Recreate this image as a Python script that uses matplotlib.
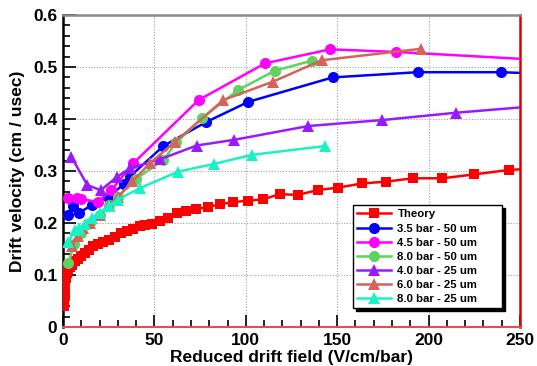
import matplotlib
matplotlib.use("Agg")
import matplotlib.pyplot as plt
from matplotlib.ticker import MultipleLocator

plt.rcParams['font.family'] = ['Liberation Sans', 'DejaVu Sans']
plt.rcParams['font.weight'] = 'bold'

# Theory curve
theory_x = [0.7, 0.8, 0.9, 1.0, 1.2, 1.5, 2, 3, 4, 5, 6.5, 8, 10, 12, 14, 16.5, 19, 22, 25,
            28.5, 32, 35, 38.5, 42, 45, 48.5, 53, 57.5, 62.5, 67.5, 73, 79.5, 86, 93, 101,
            109.5, 118.5, 128.5, 139.5, 150.5, 163.5, 176.5, 191.5, 207.5, 225, 244, 262]
theory_y = [0.04, 0.05, 0.06, 0.075, 0.085, 0.095, 0.103, 0.11, 0.115, 0.12, 0.126, 0.131,
            0.137, 0.143, 0.149, 0.155, 0.159, 0.164, 0.168, 0.174, 0.18, 0.185, 0.189,
            0.194, 0.197, 0.199, 0.204, 0.21, 0.219, 0.224, 0.227, 0.231, 0.236, 0.24,
            0.243, 0.2455, 0.2555, 0.254, 0.2635, 0.268, 0.276, 0.2795, 0.286, 0.286,
            0.2935, 0.302, 0.306]

# 3.5 bar - 50 um
b35_x = [2.5, 5.5, 9, 16, 24.5, 33.5, 36.5, 54.9, 78.2, 101.4, 147.5, 194.0, 239.8, 285]
b35_y = [0.215, 0.232, 0.22, 0.235, 0.25, 0.275, 0.289, 0.348, 0.394, 0.433, 0.480, 0.490,
         0.490, 0.484]

# 4.5 bar - 50 um
b45_x = [2.9, 7.5, 10, 19.1, 26.4, 38.5, 74.2, 110.5, 146.1, 182.0, 290]
b45_y = [0.2475, 0.2475, 0.2455, 0.241, 0.263, 0.315, 0.4365, 0.507, 0.534, 0.529, 0.508]

# 8.0 bar - 50 um
b80_x = [3, 6, 10, 15, 20, 25, 30, 40, 54.9, 62, 75.9, 95.9, 116, 136]
b80_y = [0.1225, 0.16, 0.18, 0.2, 0.215, 0.235, 0.25, 0.285, 0.321, 0.355, 0.401, 0.456,
         0.493, 0.512]

# 4.0 bar - 25 um
b40_x = [4.6, 13.3, 20.6, 29.7, 36.5, 53.1, 73.1, 93.7, 134.2, 174.7, 214.8, 256]
b40_y = [0.327, 0.273, 0.263, 0.289, 0.305, 0.3225, 0.349, 0.36, 0.3865, 0.398, 0.412, 0.424]

# 6.0 bar - 25 um
b60_x = [5, 8, 11, 15, 20, 25, 30, 38, 47.6, 61.3, 87.7, 115, 141.5, 195.8]
b60_y = [0.155, 0.175, 0.19, 0.2, 0.215, 0.235, 0.25, 0.28, 0.315, 0.356, 0.4365, 0.472,
         0.513, 0.535]

# 8.0 bar - 25 um
c80_x = [3, 6.4, 9, 11.9, 16, 20, 25, 30, 42.1, 63.1, 82.6, 103.2, 143.3]
c80_y = [0.163, 0.1865, 0.19, 0.199, 0.21, 0.22, 0.233, 0.245, 0.267, 0.299, 0.3135,
         0.331, 0.348]

series = [
    ("Theory", theory_x, theory_y, "#ff0000", "s", 6.5),
    ("3.5 bar - 50 um", b35_x, b35_y, "#0000ff", "o", 8),
    ("4.5 bar - 50 um", b45_x, b45_y, "#ff00ff", "o", 8),
    ("8.0 bar - 50 um", b80_x, b80_y, "#5fd35f", "o", 8),
    ("4.0 bar - 25 um", b40_x, b40_y, "#9a1aff", "^", 8.5),
    ("6.0 bar - 25 um", b60_x, b60_y, "#d4645a", "^", 8.5),
    ("8.0 bar - 25 um", c80_x, c80_y, "#1af2c6", "^", 8.5),
]

fig = plt.figure(figsize=(5.37, 3.66), dpi=100)
ax = fig.add_axes([63 / 537, 1 - 327 / 366, (520 - 63) / 537, (327 - 15) / 366])

for label, xs, ys, color, marker, ms in series:
    ax.plot(xs, ys, color=color, marker=marker, markersize=ms, linewidth=1.8,
            markeredgewidth=0, label=label, zorder=3)

ax.set_xlim(0, 250)
ax.set_ylim(0, 0.6)
ax.xaxis.set_major_locator(MultipleLocator(50))
ax.xaxis.set_minor_locator(MultipleLocator(10))
ax.yaxis.set_major_locator(MultipleLocator(0.1))
ax.yaxis.set_minor_locator(MultipleLocator(0.02))
ax.set_yticks([0, 0.1, 0.2, 0.3, 0.4, 0.5, 0.6])
ax.set_yticklabels(["0", "0.1", "0.2", "0.3", "0.4", "0.5", "0.6"])

ax.grid(True, which='major', color='#a0a0a0', linestyle=(0, (1, 1.5)), linewidth=0.8)
ax.tick_params(which='both', direction='in', top=False, right=False, labelsize=12.5,
               pad=4, width=1.2, color='black')
ax.tick_params(which='major', length=9)
ax.tick_params(which='minor', length=5)
for lbl in ax.get_xticklabels() + ax.get_yticklabels():
    lbl.set_fontweight('bold')

ax.spines['left'].set_color('black')
ax.spines['left'].set_linewidth(1.8)
ax.spines['top'].set_color('#8a8a8a')
ax.spines['top'].set_linewidth(1.8)
ax.spines['right'].set_color('#dd0000')
ax.spines['right'].set_linewidth(1.8)
ax.spines['bottom'].set_color('#e05050')
ax.spines['bottom'].set_linewidth(1.5)

ax.set_xlabel("Reduced drift field (V/cm/bar)", fontsize=12.5, fontweight='bold', labelpad=2)
ax.set_ylabel("Drift velocity (cm / usec)", fontsize=12.5, fontweight='bold', labelpad=6)

leg = ax.legend(loc='lower left',
                bbox_to_anchor=(353 / 537, 1 - 308 / 366, 149 / 537, 101 / 366),
                bbox_transform=fig.transFigure, mode='expand',
                prop={'size': 8.2, 'weight': 'bold'},
                frameon=True, fancybox=False, shadow={'color': 'black', 'alpha': 1},
                borderpad=0.35, labelspacing=0.36, handlelength=3.0, handletextpad=0.55,
                borderaxespad=0)
leg.get_frame().set_edgecolor('black')
leg.get_frame().set_linewidth(1.0)

fig.savefig("out.png", dpi=100)
